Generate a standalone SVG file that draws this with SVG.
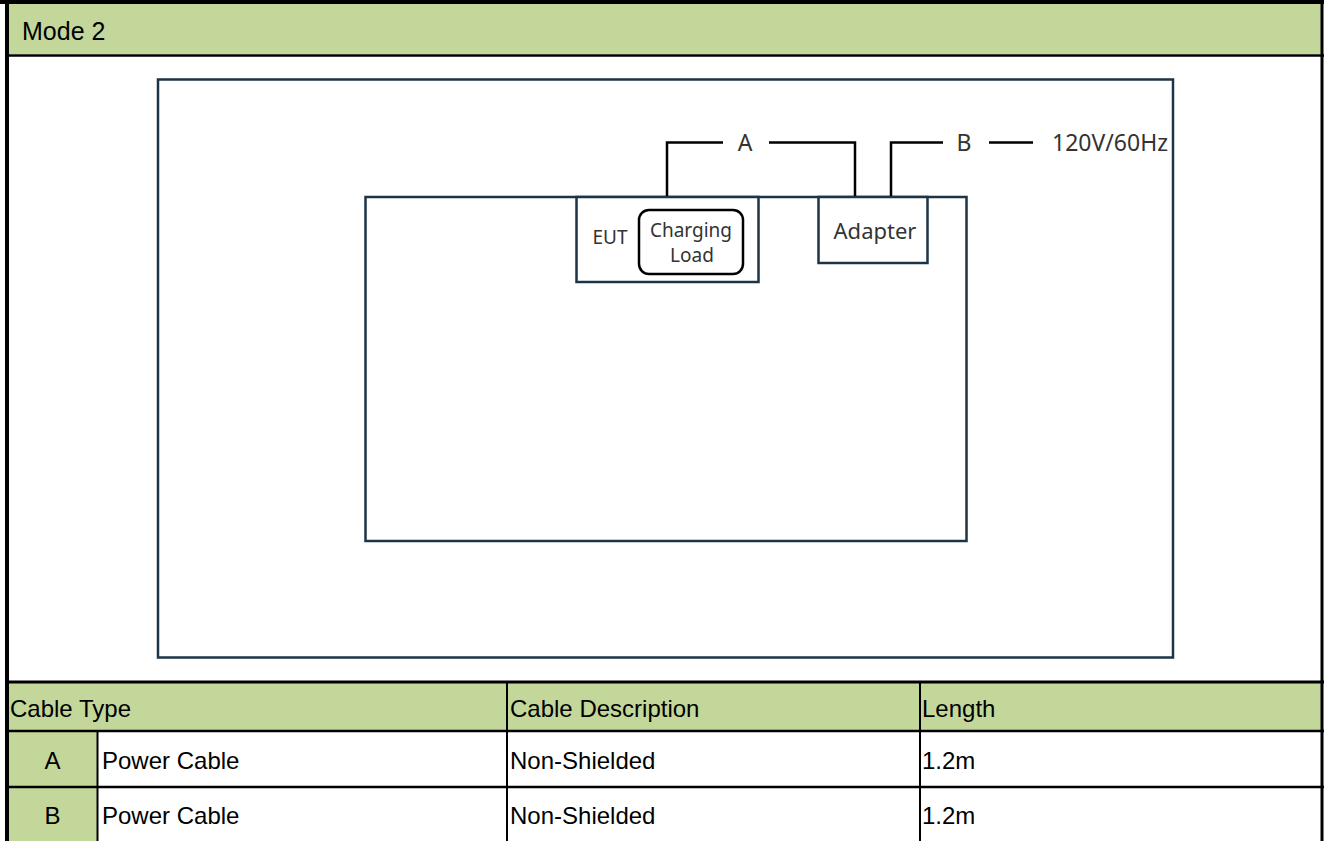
<svg xmlns="http://www.w3.org/2000/svg" width="1324" height="841" viewBox="0 0 1324 841">
<style>
.grn{fill:#c4d79b}
.grid{stroke:#000;fill:none}
.tt{font-family:"Liberation Sans",Arial,sans-serif;font-size:24px;fill:#000}
.box{fill:#fff;stroke:#1d3446;stroke-width:2.5}
.cable{fill:none;stroke:#000;stroke-width:2.5}
.lbl{font-family:"Noto Sans","DejaVu Sans",sans-serif;fill:#333}
</style>
<rect x="0" y="0" width="1324" height="841" fill="#fff"/>
<g id="title">
<rect class="grn" x="9" y="4" width="1312" height="50"/>
<text x="22" y="40" font-family="Liberation Sans, Arial, sans-serif" font-size="25" fill="#000">Mode 2</text>
</g>
<g id="frame">
<rect class="box" x="158" y="79.5" width="1015" height="578"/>
</g>
<g id="room">
<rect class="box" x="365.5" y="197" width="601" height="344"/>
</g>
<g id="eut">
<rect class="box" x="576.5" y="197" width="182" height="85"/>
<text class="lbl" x="610" y="244" font-size="19" text-anchor="middle">EUT</text>
</g>
<g id="charging-load">
<rect fill="#fff" stroke="#000" stroke-width="2.5" x="639" y="210" width="104" height="64" rx="10"/>
<text class="lbl" x="691" y="237" font-size="19" text-anchor="middle">Charging</text>
<text class="lbl" x="692" y="262" font-size="19" text-anchor="middle">Load</text>
</g>
<g id="adapter">
<rect class="box" x="818.5" y="197" width="109" height="66"/>
<text class="lbl" x="875" y="239" font-size="22" text-anchor="middle">Adapter</text>
</g>
<g id="connectors">
<path class="cable" d="M667,196 V142.5 H723 M769,142.5 H855 V196"/>
<path class="cable" d="M891,196 V142.5 H943 M989,142.5 H1033"/>
</g>
<g id="cable-labels">
<text class="lbl" x="745" y="151" font-size="23" text-anchor="middle">A</text>
<text class="lbl" x="964" y="151" font-size="23" text-anchor="middle">B</text>
<text class="lbl" x="1052" y="151" font-size="23">120V/60Hz</text>
</g>
<g id="table">
<rect class="grn" x="9" y="683" width="1312" height="47"/>
<rect class="grn" x="9" y="732" width="88" height="54"/>
<rect class="grn" x="9" y="788" width="88" height="53"/>
<g class="grid">
<line x1="5" y1="682" x2="1324" y2="682" stroke-width="3"/>
<line x1="5" y1="731" x2="1324" y2="731" stroke-width="2.5"/>
<line x1="5" y1="787" x2="1324" y2="787" stroke-width="2.5"/>
<line x1="97.5" y1="731" x2="97.5" y2="841" stroke-width="2"/>
<line x1="507" y1="682" x2="507" y2="841" stroke-width="2"/>
<line x1="920" y1="682" x2="920" y2="841" stroke-width="2"/>
</g>
<text class="tt" x="10" y="717">Cable Type</text>
<text class="tt" x="510" y="717">Cable Description</text>
<text class="tt" x="922" y="717">Length</text>
<text class="tt" x="52.5" y="769" text-anchor="middle">A</text>
<text class="tt" x="102" y="769">Power Cable</text>
<text class="tt" x="510" y="769">Non-Shielded</text>
<text class="tt" x="922" y="769">1.2m</text>
<text class="tt" x="52.5" y="824" text-anchor="middle">B</text>
<text class="tt" x="102" y="824">Power Cable</text>
<text class="tt" x="510" y="824">Non-Shielded</text>
<text class="tt" x="922" y="824">1.2m</text>
</g>
<g id="borders" class="grid">
<line x1="0" y1="2" x2="1324" y2="2" stroke-width="4"/>
<line x1="7" y1="0" x2="7" y2="841" stroke-width="4"/>
<line x1="1322" y1="0" x2="1322" y2="841" stroke-width="3"/>
<line x1="5" y1="55.5" x2="1324" y2="55.5" stroke-width="2.5"/>
</g>
</svg>
